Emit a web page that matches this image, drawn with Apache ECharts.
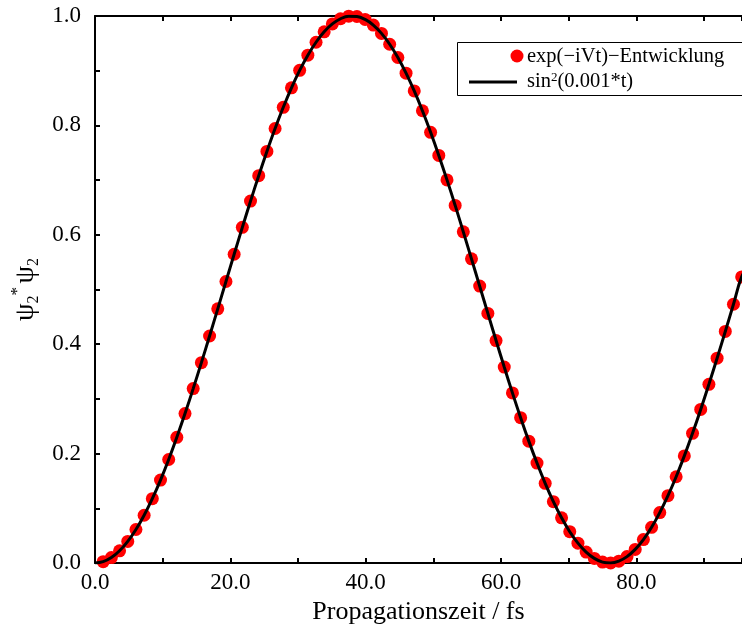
<!DOCTYPE html>
<html>
<head>
<meta charset="utf-8">
<script src="https://cdn.jsdelivr.net/npm/echarts@6/dist/echarts.min.js"></script>
<style>
html,body{margin:0;padding:0;background:#fff;}
#chart{width:742px;height:630px;}
</style>
</head>
<body>
<div id="chart"></div>
<script>
// Propagation time (fs) of the sampled points
const timeFs = [1.21,2.42,3.63,4.84,6.05,7.26,8.47,9.68,10.89,12.09,13.30,14.51,15.72,16.93,18.14,19.35,20.56,21.77,22.98,24.19,25.40,26.61,27.82,29.03,30.24,31.45,32.66,33.86,35.07,36.28,37.49,38.70,39.91,41.12,42.33,43.54,44.75,45.96,47.17,48.38,49.59,50.80,52.01,53.22,54.42,55.63,56.84,58.05,59.26,60.47,61.68,62.89,64.10,65.31,66.52,67.73,68.94,70.15,71.36,72.57,73.78,74.99,76.19,77.40,78.61,79.82,81.03,82.24,83.45,84.66,85.87,87.08,88.29,89.50,90.71,91.92,93.13,94.34,95.55];
// exp(-iVt) propagation result (red dots)
const popDots = [0.0025,0.0100,0.0223,0.0395,0.0612,0.0873,0.1176,0.1516,0.1892,0.2298,0.2732,0.3188,0.3663,0.4150,0.4646,0.5146,0.5644,0.6136,0.6616,0.7081,0.7524,0.7943,0.8331,0.8687,0.9006,0.9284,0.9520,0.9711,0.9855,0.9950,0.9996,0.9991,0.9937,0.9834,0.9682,0.9484,0.9241,0.8955,0.8630,0.8268,0.7874,0.7451,0.7004,0.6537,0.6054,0.5561,0.5062,0.4563,0.4067,0.3582,0.3110,0.2657,0.2228,0.1827,0.1457,0.1122,0.0826,0.0572,0.0363,0.0199,0.0084,0.0017,0.0001,0.0034,0.0117,0.0249,0.0428,0.0653,0.0921,0.1230,0.1577,0.1958,0.2370,0.2807,0.3267,0.3744,0.4233,0.4730,0.5230];
// sin^2(0.001*t) reference curve (black line)
const curveTime = [0].concat(timeFs, [96.8]);
const curveVals = [0].concat(popDots, [0.548]);
// Axis ticks
const xTicks = {min: 0, max: 95.6, interval: 20};
const yTicks = {min: 0, max: 1, interval: 0.2};

const FONT = '"Liberation Serif", "Times New Roman", serif';
const chart = echarts.init(document.getElementById('chart'), null, {renderer: 'canvas'});

const axisBase = {
  type: 'value',
  axisLine: {show: true, lineStyle: {color: '#000', width: 2}},
  axisTick: {show: true, inside: true, length: 5, lineStyle: {color: '#000', width: 2}},
  minorTick: {show: true, splitNumber: 2, length: 5, lineStyle: {color: '#000', width: 2}},
  splitLine: {show: false},
  minorSplitLine: {show: false}
};

chart.setOption({
  backgroundColor: '#fff',
  animation: false,
  grid: {left: 95, right: 0, top: 16, bottom: 67, containLabel: false},
  xAxis: [
    Object.assign({}, axisBase, {
      position: 'bottom', min: xTicks.min, max: xTicks.max, interval: xTicks.interval,
      axisLabel: {show: true, showMaxLabel: false, margin: 8, color: '#000', fontFamily: FONT, fontSize: 23,
        formatter: v => v.toFixed(1)},
      name: 'Propagationszeit / fs', nameLocation: 'middle', nameGap: 35,
      nameTextStyle: {color: '#000', fontFamily: FONT, fontSize: 26}
    }),
    Object.assign({}, axisBase, {
      position: 'top', min: xTicks.min, max: xTicks.max, interval: xTicks.interval,
      axisLabel: {show: false}
    })
  ],
  yAxis: [
    Object.assign({}, axisBase, {
      position: 'left', min: yTicks.min, max: yTicks.max, interval: yTicks.interval,
      axisLabel: {show: true, margin: 14, color: '#000', fontFamily: FONT, fontSize: 23,
        formatter: v => v.toFixed(1)},
      name: '{psi|ψ}{sub|2}{sup|*}{sp| }{psi|ψ}{sub|2}',
      nameLocation: 'middle', nameRotate: 90, nameGap: 50,
      nameTextStyle: {
        color: '#000', fontFamily: FONT, fontSize: 26,
        rich: {
          psi: {fontFamily: FONT, fontSize: 28, lineHeight: 32, color: '#000'},
          sub: {fontFamily: FONT, fontSize: 16, lineHeight: 16, verticalAlign: 'bottom', color: '#000'},
          sup: {fontFamily: FONT, fontSize: 17, lineHeight: 17, verticalAlign: 'top', color: '#000'},
          sp: {fontFamily: FONT, fontSize: 14, color: '#000'}
        }
      }
    })
  ],
  series: [
    {
      type: 'scatter', name: 'exp(−iVt)−Entwicklung',
      data: timeFs.map((t, i) => [t, popDots[i]]),
      symbol: 'circle', symbolSize: 13,
      itemStyle: {color: '#ff0000', opacity: 1},
      clip: false, z: 2
    },
    {
      type: 'line', name: 'sin²(0.001*t)',
      data: curveTime.map((t, i) => [t, curveVals[i]]),
      smooth: 0.4, showSymbol: false, symbol: 'none',
      lineStyle: {color: '#000', width: 3},
      clip: true, z: 3
    }
  ],
  graphic: [
    {type: 'rect', shape: {x: 457.5, y: 42.5, width: 320, height: 53}, style: {fill: '#fff', stroke: '#000', lineWidth: 1}, z: 10},
    {type: 'circle', shape: {cx: 517, cy: 56, r: 6.5}, style: {fill: '#ff0000'}, z: 11},
    {type: 'line', shape: {x1: 469, y1: 82, x2: 517, y2: 82}, style: {stroke: '#000', lineWidth: 3}, z: 11},
    {type: 'text', x: 527, y: 57, z: 11, style: {text: 'exp(−iVt)−Entwicklung', fill: '#000', font: '20.5px ' + FONT, verticalAlign: 'middle', align: 'left'}},
    {type: 'text', x: 527, y: 82, z: 11, style: {text: 'sin{sup|2}(0.001*t)', fill: '#000', font: '20.5px ' + FONT, verticalAlign: 'middle', align: 'left',
      rich: {sup: {fontSize: 13, fontFamily: FONT, verticalAlign: 'top', lineHeight: 13, padding: [0, 0, 8, 0], fill: '#000'}}}}
  ]
});
</script>
</body>
</html>
